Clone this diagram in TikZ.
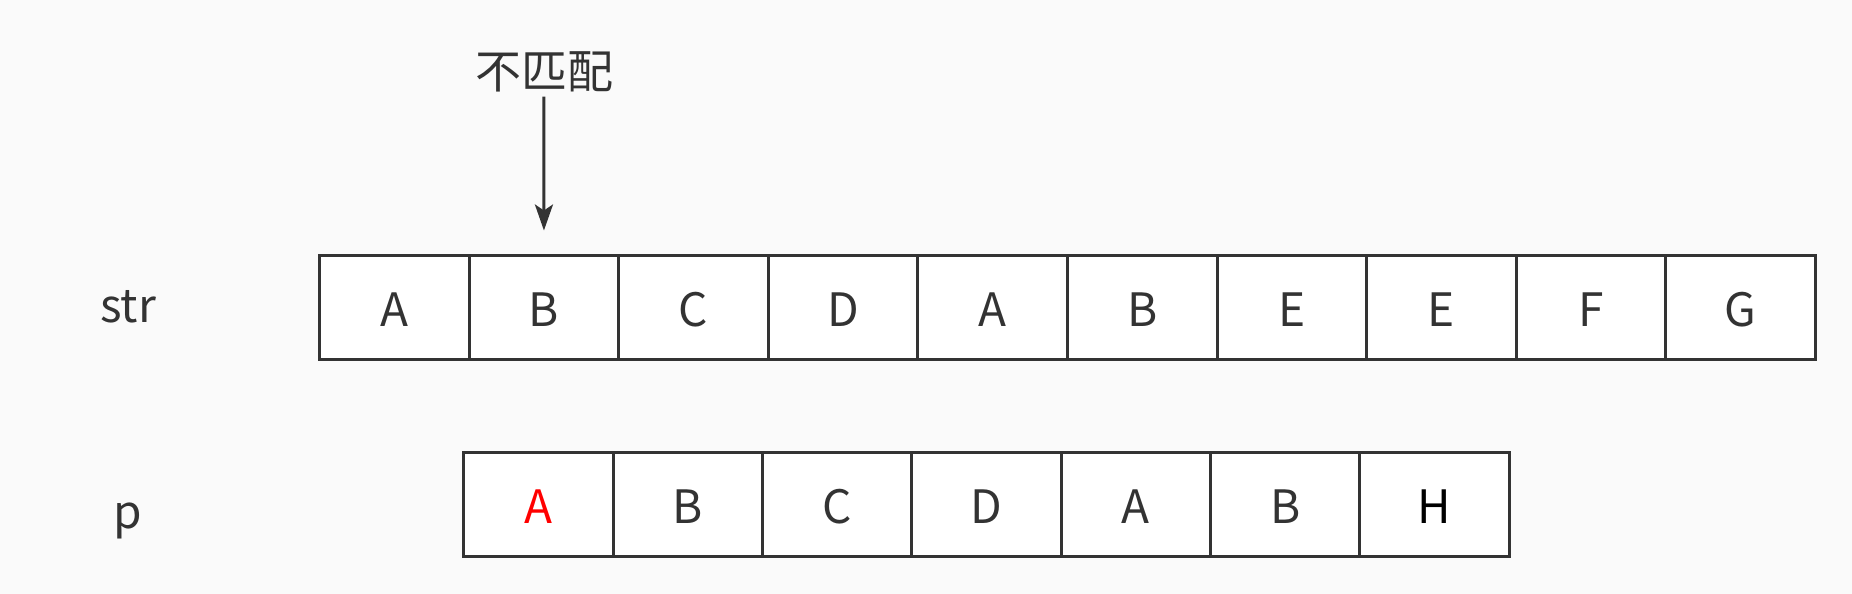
\documentclass[tikz,border=0pt]{standalone}
\usepackage{fontspec}
\setmainfont{Noto Sans CJK SC}
\usepackage{tikz}
\usetikzlibrary{arrows.meta}
\definecolor{bggray}{HTML}{FAFAFA}
\definecolor{linegray}{HTML}{333333}

\begin{document}
\begin{tikzpicture}[x=0.5pt,y=-0.5pt,
		cell/.style={draw=linegray,line width=1.5pt,fill=white,minimum width=74.8pt,minimum height=52pt,inner sep=0pt,text height=19.5pt,text depth=0pt,text=linegray,font=\fontsize{23}{28}\selectfont},
		tag/.style={text=linegray,inner sep=0pt,font=\fontsize{23}{28}\selectfont}]
		\fill[bggray] (0,0) rectangle (1852,594);
		\node[tag,anchor=base] (labelstr) at (128,322) {str};
		\node[tag,anchor=base] (labelp) at (128,528) {p};
		\node[cell] (strcell1) at (394.3,307) {A};
		\node[cell] (strcell2) at (543.9,307) {B};
		\node[cell] (strcell3) at (693.5,307) {C};
		\node[cell] (strcell4) at (843.1,307) {D};
		\node[cell] (strcell5) at (992.7,307) {A};
		\node[cell] (strcell6) at (1142.3,307) {B};
		\node[cell] (strcell7) at (1291.9,307) {E};
		\node[cell] (strcell8) at (1441.5,307) {E};
		\node[cell] (strcell9) at (1591.1,307) {F};
		\node[cell] (strcell10) at (1740.7,307) {G};
		\node[cell,text=red] (pcell1) at (538.6,504) {A};
		\node[cell] (pcell2) at (687.9,504) {B};
		\node[cell] (pcell3) at (837.2,504) {C};
		\node[cell] (pcell4) at (986.5,504) {D};
		\node[cell] (pcell5) at (1135.8,504) {A};
		\node[cell] (pcell6) at (1285.1,504) {B};
		\node[cell,text=black] (pcell7) at (1434.4,504) {H};
		\node[tag] (mismatch) at (544,72) {不匹配};
		\draw[linegray,line width=1.5pt,-{Stealth[length=13pt,width=9pt,inset=3pt]},shorten <=2pt,shorten >=11.5pt] (mismatch) -- (strcell2);
	\end{tikzpicture}
\end{document}
